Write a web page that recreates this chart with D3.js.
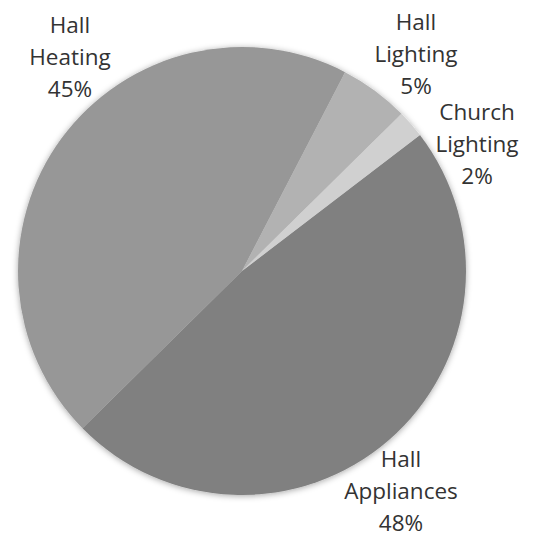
<!DOCTYPE html>
<html>
<head>
<meta charset="utf-8">
<script src="https://cdn.jsdelivr.net/npm/d3@7"></script>
<style>
  html, body { margin: 0; padding: 0; background: #fff; }
  svg { display: block; }
</style>
</head>
<body>
<svg id="chart" width="534" height="538"></svg>
<script>
// Energy use breakdown
const categories = ["Hall Appliances", "Hall Heating", "Hall Lighting", "Church Lighting"];
const labelLines = [["Hall", "Appliances"], ["Hall", "Heating"], ["Hall", "Lighting"], ["Church", "Lighting"]];
const shares = [48, 45, 5, 2];

const colors = ["#808080", "#979797", "#b2b2b2", "#d0d0d0"];

// label block anchors (centre x, first baseline y)
const labelAnchors = [[401, 467], [70, 33], [416, 30], [477, 120]];

const W = 534, H = 538;
const cx = 242, cy = 271, R = 224;
const lineGap = 32;

const svg = d3.select("#chart");

const defs = svg.append("defs");
const f = defs.append("filter").attr("id", "shadow")
  .attr("x", "-20%").attr("y", "-20%").attr("width", "140%").attr("height", "140%");
f.append("feDropShadow").attr("dx", 0).attr("dy", 1)
  .attr("stdDeviation", 3).attr("flood-color", "#000").attr("flood-opacity", 0.35);

const data = categories.map((c, i) => ({ name: c, value: shares[i], lines: labelLines[i] }));

const startDeg = 52.6;
const pie = d3.pie()
  .sort(null)
  .value(d => d.value)
  .startAngle(startDeg * Math.PI / 180)
  .endAngle((startDeg + 360) * Math.PI / 180);

const arc = d3.arc().innerRadius(0).outerRadius(R);

const g = svg.append("g")
  .attr("transform", `translate(${cx},${cy})`)
  .attr("filter", "url(#shadow)");

g.selectAll("path")
  .data(pie(data))
  .join("path")
  .attr("d", arc)
  .attr("fill", (d, i) => colors[i]);

const labels = svg.append("g")
  .attr("font-family", "'Open Sans', 'Noto Sans', sans-serif")
  .attr("font-size", 22.5)
  .attr("fill", "#333")
  .attr("text-anchor", "middle");

data.forEach((d, i) => {
  const [x, y] = labelAnchors[i];
  const t = labels.append("text").attr("x", x).attr("y", y);
  const lines = d.lines.concat([d3.format(".0%")(d.value / 100)]);
  lines.forEach((ln, k) => {
    t.append("tspan").attr("x", x).attr("y", y + k * lineGap).text(ln);
  });
});
</script>
</body>
</html>
